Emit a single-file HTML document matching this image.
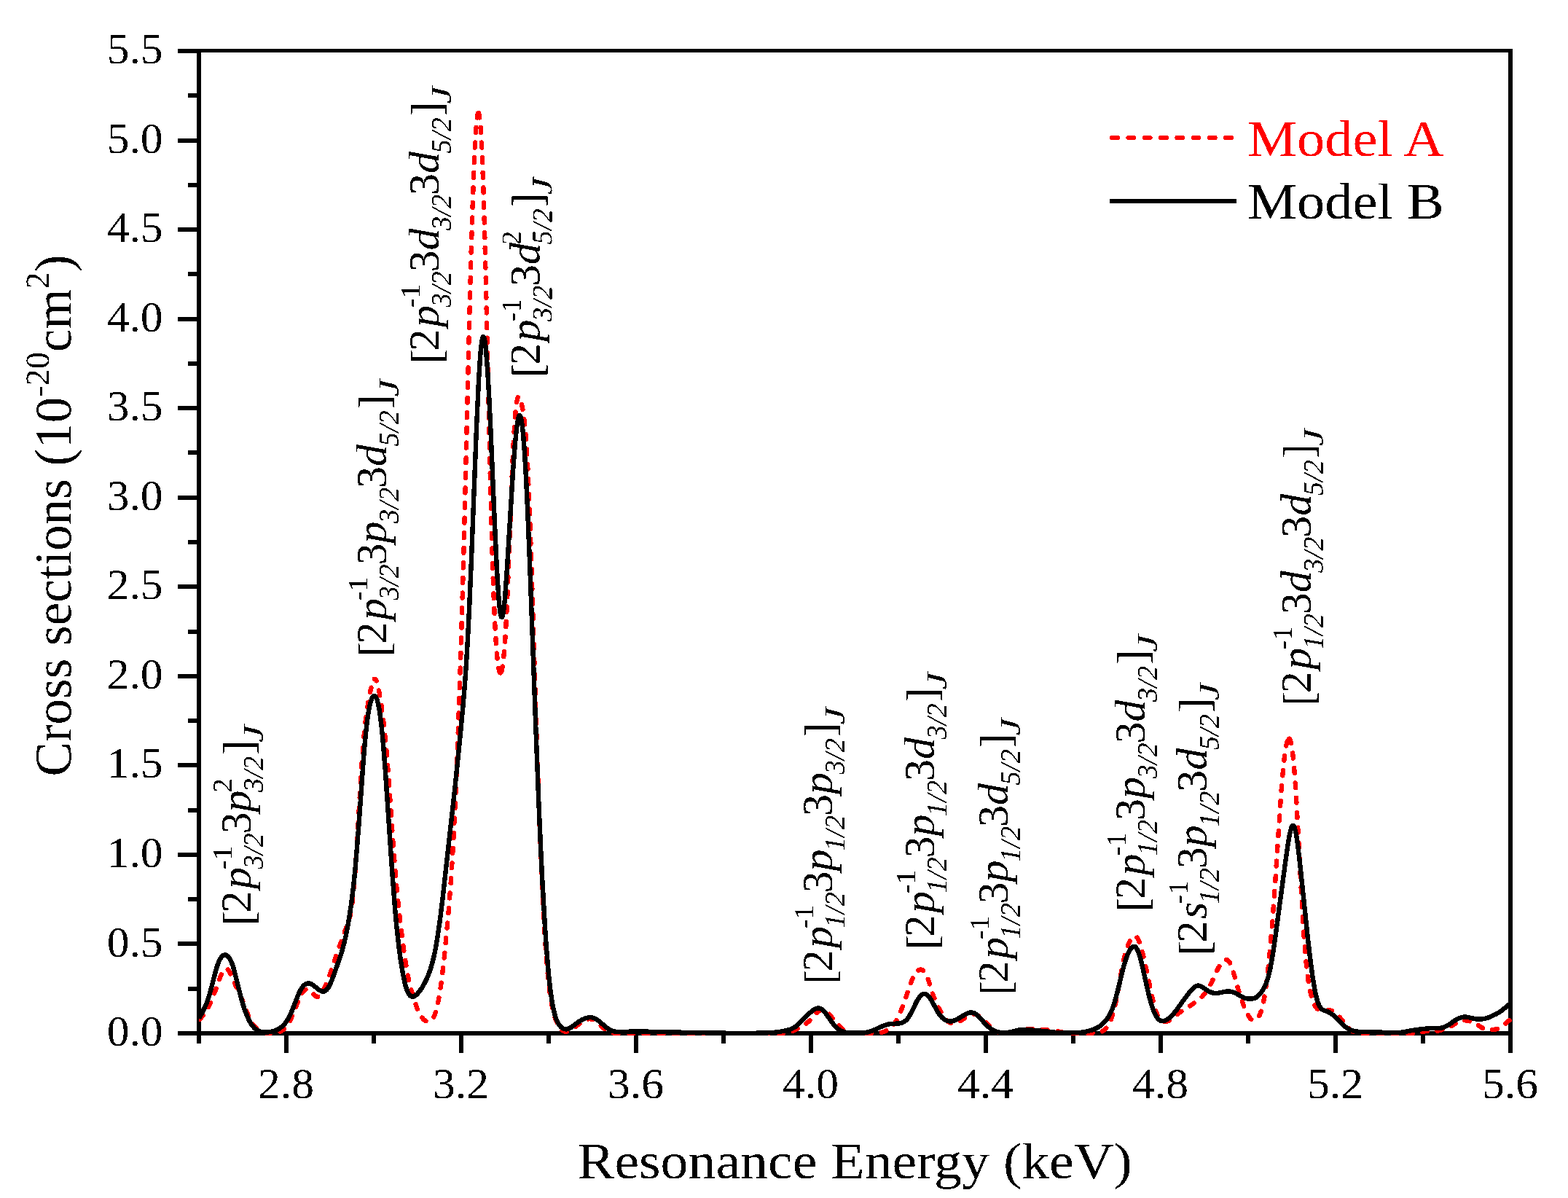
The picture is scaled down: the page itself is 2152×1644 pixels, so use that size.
<!DOCTYPE html>
<html lang="en"><head><meta charset="utf-8"><title>Cross sections vs Resonance Energy</title>
<style>
html,body{margin:0;padding:0;background:#fff;}
body{width:2152px;height:1644px;overflow:hidden;}
svg{display:block;}
text{font-family:"Liberation Serif","Times New Roman",Times,serif;}
.tk{font-size:60px;fill:#000;}
.ax{font-size:70.5px;fill:#000;}
.an{font-size:60px;fill:#000;}
.i{font-style:italic;}
</style></head><body>
<svg width="2152" height="1644" viewBox="0 0 2152 1644">
<rect x="0" y="0" width="2152" height="1644" fill="#ffffff"/>
<g shape-rendering="crispEdges" fill="#000">
<rect x="270" y="67" width="1806" height="5"/>
<rect x="270" y="1415" width="1806" height="6"/>
<rect x="270" y="67" width="6" height="1354"/>
<rect x="2070" y="67" width="6" height="1354"/>
<rect x="244" y="1415" width="29" height="6"/>
<rect x="258" y="1354" width="15" height="6"/>
<rect x="244" y="1292" width="29" height="6"/>
<rect x="258" y="1231" width="15" height="6"/>
<rect x="244" y="1170" width="29" height="6"/>
<rect x="258" y="1109" width="15" height="6"/>
<rect x="244" y="1047" width="29" height="6"/>
<rect x="258" y="986" width="15" height="6"/>
<rect x="244" y="925" width="29" height="6"/>
<rect x="258" y="864" width="15" height="6"/>
<rect x="244" y="802" width="29" height="6"/>
<rect x="258" y="741" width="15" height="6"/>
<rect x="244" y="680" width="29" height="6"/>
<rect x="258" y="618" width="15" height="6"/>
<rect x="244" y="557" width="29" height="6"/>
<rect x="258" y="496" width="15" height="6"/>
<rect x="244" y="435" width="29" height="6"/>
<rect x="258" y="373" width="15" height="6"/>
<rect x="244" y="312" width="29" height="6"/>
<rect x="258" y="251" width="15" height="6"/>
<rect x="244" y="190" width="29" height="6"/>
<rect x="258" y="128" width="15" height="6"/>
<rect x="244" y="67" width="29" height="6"/>
<rect x="270" y="1418" width="6" height="14"/>
<rect x="390" y="1418" width="6" height="27"/>
<rect x="510" y="1418" width="6" height="14"/>
<rect x="630" y="1418" width="6" height="27"/>
<rect x="750" y="1418" width="6" height="14"/>
<rect x="870" y="1418" width="6" height="27"/>
<rect x="990" y="1418" width="6" height="14"/>
<rect x="1110" y="1418" width="6" height="27"/>
<rect x="1230" y="1418" width="6" height="14"/>
<rect x="1350" y="1418" width="6" height="27"/>
<rect x="1470" y="1418" width="6" height="14"/>
<rect x="1590" y="1418" width="6" height="27"/>
<rect x="1710" y="1418" width="6" height="14"/>
<rect x="1830" y="1418" width="6" height="27"/>
<rect x="1950" y="1418" width="6" height="14"/>
<rect x="2070" y="1418" width="6" height="27"/>
</g>
<clipPath id="plotclip"><rect x="273" y="70" width="1802" height="1351"/></clipPath>
<g clip-path="url(#plotclip)" fill="none" stroke-linejoin="round" shape-rendering="crispEdges">
<g stroke="#ff0000" stroke-width="6.4" stroke-linecap="round">
<path d="M302.4 1340.6L293.0 1366.3L290.0 1373.6L288.0 1378.0L284.0 1385.4L280.0 1391.6L276.0 1396.8L273.0 1399.7" stroke-dasharray="7.00 13.60" stroke-dashoffset="3.50"/>
<path d="M302.4 1340.6L305.0 1334.8L307.0 1331.5L308.0 1330.4L309.0 1329.6L310.0 1329.3L311.0 1329.3L312.0 1329.8L313.0 1330.7L315.0 1333.5L317.0 1337.5L323.0 1351.4L329.0 1364.2L333.0 1373.7L340.0 1391.9L343.0 1398.6L345.0 1402.3L347.0 1405.5L349.0 1408.1L351.0 1410.3L354.0 1413.0L356.0 1414.3L359.0 1415.8L362.0 1416.8L365.0 1417.4L369.0 1417.8L374.0 1417.8L378.0 1417.5L381.0 1417.0L384.0 1416.0L386.0 1415.0L389.0 1412.9L391.0 1411.0L393.0 1408.7L395.0 1405.9L398.0 1400.7L402.0 1392.1L409.0 1374.3L412.0 1367.5L415.0 1362.1L417.0 1359.6L418.0 1358.7L419.0 1358.0L421.0 1357.4L422.0 1357.4L424.0 1358.1L426.0 1359.6L431.0 1365.0L433.0 1366.8L435.0 1367.8L436.0 1367.9L437.0 1367.7L438.0 1367.2L439.0 1366.4L441.0 1364.0L443.0 1360.7L447.0 1352.2L451.0 1342.2L464.0 1303.7L471.0 1284.2L478.0 1265.8L480.0 1259.0L482.0 1249.3L484.0 1235.1L485.0 1225.9L487.0 1202.7L490.0 1157.5L496.0 1055.5L499.0 1015.4L501.0 995.1L503.0 979.1L506.0 960.3L508.6 947.0" stroke-dasharray="7.00 13.75" stroke-dashoffset="3.50"/>
<path d="M508.6 947.0L511.0 937.4L512.0 934.6L513.0 932.7L514.0 931.7" stroke-dasharray="7.00 13.60" stroke-dashoffset="3.50"/>
<path d="M520.7 950.9L519.0 942.4L517.0 935.2L516.0 933.0L515.0 931.8L514.0 931.7" stroke-dasharray="7.00 13.60" stroke-dashoffset="3.50"/>
<path d="M520.7 950.9L523.0 965.3L525.0 979.7L527.0 996.0L529.0 1015.0L531.0 1037.2L533.0 1062.8L540.0 1163.9L543.0 1202.3L545.0 1224.5L548.0 1253.6L551.0 1279.2L553.8 1301.1" stroke-dasharray="7.00 13.70" stroke-dashoffset="3.50"/>
<path d="M553.8 1301.1L556.0 1316.2L559.0 1334.3L561.0 1344.4L564.0 1357.0L567.0 1367.6L571.0 1379.6L573.0 1384.9L575.0 1389.4L578.0 1394.9L581.0 1398.6L583.0 1400.3L585.0 1401.4L587.0 1401.9L589.0 1401.8L591.0 1401.0L592.0 1400.2L594.0 1397.8L595.0 1396.1L597.0 1391.6L599.0 1385.2L601.0 1376.7L603.0 1366.0L605.0 1353.0L607.0 1337.8L610.0 1311.3L615.0 1259.0L619.0 1207.4L622.0 1158.6L625.0 1098.0L628.0 1024.8L631.0 940.7" stroke-dasharray="7.00 13.62" stroke-dashoffset="3.50"/>
<path d="M631.0 940.7L634.0 843.9L637.0 735.8L644.0 448.6L647.0 333.5L650.0 241.8L652.0 197.8L653.2 178.5" stroke-dasharray="7.00 13.61" stroke-dashoffset="3.50"/>
<path d="M653.2 178.5L654.0 168.8L655.0 160.2L656.0 155.5L657.0 155.0" stroke-dasharray="7.00 13.60" stroke-dashoffset="3.50"/>
<path d="M659.9 178.5L659.0 167.0L658.0 158.8L657.0 155.0" stroke-dasharray="7.00 13.60" stroke-dashoffset="3.50"/>
<path d="M659.9 178.5L661.0 197.2L662.0 219.4L663.0 246.2L665.0 312.8L667.0 393.8L673.0 662.8L676.0 773.3L677.0 803.0L679.0 851.4L681.0 885.7L682.2 900.1" stroke-dasharray="7.00 13.63" stroke-dashoffset="3.50"/>
<path d="M682.2 900.1L683.0 907.9L684.0 915.2L685.0 920.1L686.0 922.9L687.0 923.6" stroke-dasharray="7.00 13.60" stroke-dashoffset="3.50"/>
<path d="M691.7 897.6L690.0 913.3L689.0 918.9L688.0 922.3L687.0 923.6" stroke-dasharray="7.00 13.60" stroke-dashoffset="3.50"/>
<path d="M691.7 897.6L693.0 881.6L694.0 865.8L696.0 826.3L698.0 777.8L703.0 645.8L705.0 602.6L707.0 571.2L708.0 560.3L709.0 552.5L710.0 547.4L711.0 544.8L712.0 544.2L713.0 545.2L714.0 547.5L715.0 550.7L717.0 559.5L718.0 565.2L720.0 580.4L722.0 602.9L724.0 635.4L726.0 679.0L729.0 763.6L736.0 996.8L740.0 1115.9L744.0 1213.5L746.0 1253.7L748.0 1288.0L750.0 1316.5L752.0 1339.6L754.0 1357.7L755.0 1365.2L757.0 1377.5L758.0 1382.5L760.0 1390.8L762.0 1397.4L764.0 1402.5L766.0 1406.7L768.0 1409.9L770.0 1412.3L772.0 1414.0L774.0 1415.1L776.0 1415.6L778.0 1415.6L781.0 1414.9L783.0 1414.0L786.0 1412.1L796.0 1404.2L801.0 1400.9L804.0 1399.4L806.0 1398.8L808.0 1398.3L810.0 1398.2L812.0 1398.5L814.0 1399.0L816.0 1399.9L818.0 1401.2L821.0 1403.7L829.0 1411.5L832.0 1413.9L834.0 1415.1L836.0 1416.1L838.0 1416.8L841.0 1417.4L844.0 1417.8L856.0 1418.0L1057.0 1418.0L1069.0 1417.9L1076.0 1417.6L1082.0 1416.8L1085.0 1416.0L1088.0 1415.0L1093.0 1412.5L1104.0 1406.1L1107.0 1404.1L1110.0 1401.6L1113.0 1398.4L1119.0 1391.5L1122.0 1388.7L1125.0 1386.8L1127.0 1386.2L1128.0 1386.1L1129.0 1386.1L1131.0 1386.5L1133.0 1387.4L1135.0 1388.8L1137.0 1390.6L1139.0 1392.8L1148.0 1403.9L1153.0 1409.4L1156.0 1412.1L1158.0 1413.5L1160.0 1414.8L1163.0 1416.1L1165.0 1416.8L1168.0 1417.4L1175.0 1417.9L1199.0 1417.9L1204.0 1417.7L1208.0 1417.2L1211.0 1416.5L1214.0 1415.5L1217.0 1414.1L1220.0 1412.3L1223.0 1409.9L1225.0 1407.9L1227.0 1405.5L1229.0 1402.6L1231.0 1399.1L1233.0 1395.2L1237.0 1385.9L1241.0 1375.0L1249.0 1351.7L1251.0 1346.4L1253.0 1341.8L1255.0 1338.0L1256.0 1336.4L1258.0 1333.8L1259.0 1332.8L1261.0 1331.3L1263.0 1330.6L1264.0 1330.5" stroke-dasharray="7.00 13.56" stroke-dashoffset="3.50"/>
<path d="M1264.0 1330.5L1266.0 1331.0L1268.0 1332.5L1270.0 1335.3L1271.0 1337.2L1274.0 1344.6L1280.0 1363.4L1283.0 1371.8L1286.0 1378.7L1289.0 1384.5L1294.0 1392.9L1298.0 1398.6L1301.0 1401.7L1302.0 1402.4L1304.0 1403.5L1306.0 1404.0L1309.0 1404.0L1312.0 1403.4L1315.0 1402.5L1318.0 1401.2L1320.0 1400.1L1327.0 1395.0L1330.0 1393.1L1333.0 1392.0L1336.0 1391.7L1338.0 1392.0L1340.0 1392.6L1342.0 1393.5L1345.0 1395.4L1347.0 1396.9L1350.0 1399.6L1359.0 1409.0L1363.0 1412.6L1366.0 1414.6L1368.0 1415.6L1370.0 1416.4L1373.0 1417.1L1377.0 1417.3L1382.0 1417.0L1405.0 1412.5L1409.0 1412.0L1412.0 1411.8L1429.0 1412.6L1444.0 1414.1L1449.0 1414.8L1460.0 1417.0L1467.0 1417.8L1475.0 1418.0L1496.0 1418.0L1502.0 1417.8L1506.0 1417.5L1509.0 1416.9L1512.0 1415.8L1515.0 1414.0L1517.0 1412.2L1519.0 1409.9L1521.0 1407.0L1523.0 1403.3L1525.0 1398.6L1528.0 1389.5L1531.0 1377.2L1534.0 1362.0L1541.0 1323.0L1543.0 1313.7L1545.0 1305.9L1548.0 1297.0L1551.0 1290.9L1553.0 1287.8L1555.0 1285.7L1556.0 1285.1L1557.0 1284.7L1558.0 1284.7L1559.0 1285.1L1560.0 1285.9L1561.0 1287.2L1562.0 1288.9L1564.0 1293.6L1567.0 1303.4L1569.0 1311.3L1572.0 1324.4L1582.0 1371.3L1584.0 1379.4L1586.0 1386.3L1588.0 1391.8L1590.0 1396.0L1592.0 1399.0L1594.0 1400.8L1596.0 1401.8L1597.0 1402.0L1599.0 1402.1L1602.0 1401.6L1604.0 1400.9L1606.0 1399.9L1610.0 1397.2L1619.0 1389.5L1628.0 1383.7L1643.0 1373.7L1646.0 1371.4L1648.0 1369.7L1651.0 1366.5L1654.0 1362.9L1657.0 1358.7L1659.0 1355.5L1663.0 1347.9L1671.0 1330.4L1673.0 1326.7L1675.0 1323.5L1677.0 1320.9L1679.0 1318.8L1681.0 1317.5L1682.0 1317.1L1683.0 1317.0L1684.0 1317.2L1685.0 1317.7L1686.0 1318.6L1687.0 1319.9L1688.0 1321.5L1690.0 1325.9L1693.0 1334.9L1699.0 1356.2L1703.0 1369.2L1707.0 1380.4L1711.0 1389.8L1714.0 1395.1L1716.0 1397.7L1717.0 1398.6L1718.0 1399.3L1720.0 1400.1L1722.0 1400.0L1724.0 1399.1L1726.0 1397.3L1727.0 1396.0L1729.0 1392.5L1731.0 1387.3L1733.0 1380.1L1735.0 1370.4L1737.0 1358.0L1740.0 1334.3L1743.0 1304.4L1746.0 1268.9L1750.0 1213.4L1758.0 1092.3L1760.0 1067.0L1762.7 1040.4" stroke-dasharray="7.00 13.75" stroke-dashoffset="3.50"/>
<path d="M1762.7 1040.4L1764.0 1030.3L1765.0 1024.3L1766.0 1019.6L1767.0 1016.3L1768.0 1014.2L1769.0 1013.5" stroke-dasharray="7.00 13.60" stroke-dashoffset="3.50"/>
<path d="M1774.5 1037.0L1773.0 1025.4L1772.0 1020.0L1771.0 1016.3L1770.0 1014.2L1769.0 1013.5" stroke-dasharray="7.00 13.60" stroke-dashoffset="3.50"/>
<path d="M1774.5 1037.0L1776.0 1052.0L1777.0 1064.5L1779.0 1094.4L1787.0 1243.1L1790.0 1289.8L1792.0 1314.3L1793.0 1324.6L1795.0 1341.5L1796.0 1348.3L1798.0 1359.5L1800.0 1367.8L1802.0 1374.1L1804.0 1378.7L1805.0 1380.6L1807.0 1383.5L1808.0 1384.5L1810.0 1386.1L1811.0 1386.6L1813.0 1387.3L1816.0 1387.5L1822.0 1386.5L1825.0 1386.4L1828.0 1387.1L1830.0 1388.1L1833.0 1390.3L1837.0 1394.2L1841.0 1398.8L1849.0 1408.6L1853.0 1412.7L1856.0 1414.9L1859.0 1416.3L1862.0 1417.2L1866.0 1417.7L1877.0 1418.0L1938.0 1417.9L1946.0 1417.2L1956.0 1415.3L1960.0 1414.7L1963.0 1414.6L1970.0 1414.8L1973.0 1414.6L1976.0 1414.0L1979.0 1413.2L1988.0 1410.0L1993.0 1407.4L1999.0 1403.4L2002.0 1401.6L2005.0 1400.5L2008.0 1400.1L2011.0 1400.3L2015.0 1400.9L2018.0 1401.5L2021.0 1402.5L2025.0 1404.5L2033.0 1409.7L2036.0 1411.2L2038.0 1412.0L2040.0 1412.5L2043.0 1413.1L2046.0 1413.2L2049.0 1413.1L2054.0 1412.3L2057.0 1411.3L2059.0 1410.3L2063.0 1407.6L2068.8 1402.4" stroke-dasharray="7.00 13.47" stroke-dashoffset="3.50"/>
<path d="M2068.8 1402.4L2071.0 1400.6L2073.0 1399.3" stroke-dasharray="7.00 13.60" stroke-dashoffset="3.50"/>
</g>
<path d="M273.0 1397.6L277.0 1390.5L280.0 1384.7L283.0 1378.0L285.0 1372.7L287.0 1366.6L289.0 1359.6L296.0 1332.6L298.0 1325.9L300.0 1320.3L302.0 1316.1L304.0 1313.1L306.0 1311.3L308.0 1310.5L310.0 1310.5L311.0 1310.9L313.0 1312.4L315.0 1314.9L316.0 1316.6L318.0 1321.0L320.0 1326.7L322.0 1333.6L330.0 1365.8L333.0 1376.8L336.0 1386.2L340.0 1396.3L342.0 1400.4L344.0 1404.0L346.0 1407.0L348.0 1409.5L350.0 1411.6L352.0 1413.1L354.0 1414.3L357.0 1415.5L361.0 1416.3L366.0 1416.5L371.0 1416.1L375.0 1415.2L379.0 1413.8L383.0 1411.7L386.0 1409.6L389.0 1406.9L392.0 1403.4L394.0 1400.5L396.0 1397.1L398.0 1393.2L401.0 1386.3L409.0 1365.9L412.0 1359.4L415.0 1354.6L417.0 1352.3L419.0 1350.7L421.0 1349.7L423.0 1349.3L425.0 1349.5L427.0 1350.2L430.0 1352.0L438.0 1358.6L441.0 1360.2L443.0 1360.7L445.0 1360.4L446.0 1360.0L448.0 1358.6L450.0 1356.2L452.0 1352.9L455.0 1346.2L458.0 1338.3L467.0 1312.7L470.0 1303.1L473.0 1291.6L475.0 1282.6L478.0 1266.7L480.0 1254.5L482.0 1240.9L484.0 1225.4L486.0 1207.7L488.0 1187.2L492.0 1137.8L499.0 1040.6L501.0 1016.9L503.0 997.1L505.0 981.6L506.0 975.4L508.0 965.7L510.0 959.3L511.0 957.2L512.0 955.8L513.0 955.0L514.0 954.8L515.0 955.4L516.0 956.7L517.0 958.8L518.0 961.8L519.0 965.6L521.0 976.4L522.0 983.4L524.0 1000.5L526.0 1021.6L529.0 1059.9L538.0 1193.4L542.0 1245.5L544.0 1267.7L547.0 1295.9L550.0 1318.8L553.0 1336.8L556.0 1350.5L557.0 1354.1L559.0 1359.9L560.0 1362.1L562.0 1365.4L563.0 1366.5L564.0 1367.2L565.0 1367.6L566.0 1367.8L568.0 1367.4L569.0 1366.9L571.0 1365.5L573.0 1363.6L576.0 1360.0L579.0 1355.6L582.0 1350.4L585.0 1344.6L587.0 1340.1L590.0 1332.3L592.0 1326.1L594.0 1318.9L596.0 1310.4L598.0 1300.5L600.0 1289.1L604.0 1261.7L608.0 1228.7L624.0 1084.9L631.0 1016.6L636.0 963.3L638.0 938.6L640.0 909.9L642.0 876.2L644.0 836.8L647.0 767.2L654.0 586.3L657.0 522.4L659.0 491.0L660.0 479.3L661.0 470.6L662.0 464.8L663.0 462.1L664.0 462.4L665.0 465.7L666.0 471.8L667.0 480.7L669.0 506.1L671.0 540.0L673.0 580.7L679.0 719.9L682.0 782.4L684.0 814.7L685.0 827.1L686.0 836.7L687.0 843.2L688.0 846.7L689.0 847.2L690.0 844.6L691.0 839.2L692.0 831.2L693.0 820.9L696.0 779.3L704.0 647.3L707.0 607.9L709.0 588.2L710.0 580.8L711.0 575.2L712.0 571.5L713.0 569.9L714.0 570.5L715.0 573.3L716.0 578.4L717.0 585.8L718.0 595.5L720.0 621.7L722.0 656.2L724.0 697.9L727.0 770.9L735.0 989.8L739.0 1092.4L742.0 1161.1L744.0 1202.2L748.0 1272.5L750.0 1301.5L753.0 1337.0L755.0 1355.5L756.0 1363.4L758.0 1376.6L759.0 1382.0L761.0 1390.8L762.0 1394.3L764.0 1400.0L766.0 1404.2L768.0 1407.3L770.0 1409.5L772.0 1411.0L774.0 1411.9L776.0 1412.3L778.0 1412.3L780.0 1411.8L782.0 1410.9L784.0 1409.7L794.0 1402.3L799.0 1399.3L802.0 1397.9L805.0 1396.9L808.0 1396.3L810.0 1396.2L812.0 1396.3L814.0 1396.7L816.0 1397.4L819.0 1399.1L823.0 1402.1L832.0 1409.7L837.0 1413.1L841.0 1414.8L843.0 1415.4L846.0 1415.8L851.0 1416.0L879.0 1415.3L892.0 1415.8L953.0 1417.1L996.0 1417.7L1038.0 1417.7L1052.0 1417.4L1062.0 1416.9L1070.0 1415.9L1079.0 1414.2L1085.0 1412.5L1089.0 1410.6L1092.0 1408.7L1096.0 1405.3L1108.0 1393.1L1114.0 1387.7L1117.0 1385.6L1119.0 1384.5L1121.0 1383.8L1123.0 1383.5L1125.0 1383.7L1127.0 1384.5L1130.0 1386.8L1132.0 1389.0L1134.0 1391.6L1141.0 1401.8L1145.0 1407.0L1149.0 1411.0L1151.0 1412.5L1154.0 1414.4L1156.0 1415.3L1159.0 1416.3L1162.0 1417.0L1165.0 1417.3L1175.0 1417.7L1185.0 1417.4L1191.0 1416.4L1196.0 1414.9L1201.0 1412.9L1211.0 1408.3L1217.0 1406.1L1220.0 1405.4L1223.0 1405.0L1232.0 1404.6L1235.0 1404.3L1238.0 1403.5L1241.0 1402.1L1243.0 1400.6L1245.0 1398.6L1248.0 1394.3L1251.0 1388.9L1258.0 1374.6L1260.0 1371.1L1262.0 1368.2L1264.0 1366.0L1266.0 1364.5L1268.0 1363.8L1269.0 1363.8L1270.0 1363.9L1272.0 1364.8L1274.0 1366.6L1276.0 1369.1L1279.0 1373.9L1287.0 1388.7L1289.0 1391.8L1291.0 1394.4L1293.0 1396.5L1296.0 1398.9L1298.0 1400.0L1301.0 1401.1L1303.0 1401.4L1305.0 1401.5L1307.0 1401.2L1310.0 1400.4L1314.0 1398.5L1324.0 1392.5L1327.0 1390.9L1329.0 1390.1L1331.0 1389.6L1334.0 1389.4L1337.0 1390.3L1339.0 1391.5L1341.0 1393.0L1344.0 1396.0L1353.0 1405.8L1356.0 1408.7L1359.0 1411.1L1362.0 1413.1L1365.0 1414.6L1368.0 1415.8L1372.0 1416.7L1377.0 1417.2L1383.0 1417.0L1388.0 1416.1L1398.0 1413.6L1401.0 1413.1L1405.0 1412.9L1410.0 1413.1L1421.0 1413.9L1447.0 1416.6L1453.0 1417.1L1476.0 1417.2L1481.0 1417.0L1485.0 1416.6L1491.0 1415.5L1498.0 1413.7L1503.0 1411.8L1507.0 1409.8L1511.0 1407.0L1515.0 1403.4L1519.0 1398.6L1522.0 1394.1L1524.0 1390.4L1526.0 1386.0L1528.0 1380.8L1530.0 1374.6L1534.0 1359.7L1541.0 1330.7L1544.0 1320.0L1546.0 1314.0L1549.0 1306.7L1551.0 1303.1L1553.0 1300.5L1554.0 1299.6L1555.0 1299.0L1556.0 1298.8L1557.0 1298.9L1558.0 1299.3L1559.0 1300.2L1560.0 1301.6L1562.0 1305.5L1564.0 1311.1L1566.0 1318.2L1568.0 1326.5L1574.0 1353.8L1577.0 1366.6L1580.0 1377.6L1582.0 1383.7L1584.0 1388.9L1587.0 1394.8L1588.0 1396.4L1590.0 1398.7L1591.0 1399.6L1593.0 1400.7L1594.0 1401.1L1596.0 1401.3L1599.0 1400.6L1601.0 1399.6L1603.0 1398.3L1607.0 1394.9L1610.0 1391.8L1614.0 1387.0L1627.0 1368.9L1634.0 1359.9L1637.0 1356.7L1639.0 1354.9L1641.0 1353.5L1643.0 1352.7L1645.0 1352.6L1646.0 1352.7L1648.0 1353.4L1650.0 1354.5L1656.0 1358.6L1659.0 1360.4L1662.0 1361.8L1665.0 1362.6L1668.0 1363.0L1671.0 1362.9L1682.0 1360.7L1685.0 1360.4L1688.0 1360.5L1691.0 1361.1L1695.0 1362.5L1705.0 1368.1L1709.0 1369.8L1712.0 1370.4L1715.0 1370.7L1718.0 1370.6L1721.0 1370.1L1723.0 1369.3L1725.0 1368.2L1728.0 1365.5L1731.0 1361.9L1734.0 1357.1L1737.0 1351.0L1739.0 1345.7L1741.0 1339.1L1743.0 1330.8L1746.0 1315.1L1749.0 1295.6L1764.0 1184.2L1768.0 1156.3L1770.0 1144.9L1772.0 1136.8L1773.0 1134.3L1774.0 1133.0L1775.0 1132.9L1776.0 1134.2L1777.0 1136.8L1778.0 1140.6L1779.0 1145.6L1781.0 1158.7L1784.0 1183.9L1795.0 1288.4L1799.0 1322.1L1802.0 1343.8L1805.0 1361.0L1806.0 1365.7L1808.0 1373.3L1809.0 1376.3L1811.0 1380.8L1812.0 1382.4L1814.0 1384.7L1815.0 1385.4L1817.0 1386.5L1822.0 1388.3L1824.0 1389.2L1828.0 1391.6L1833.0 1395.9L1842.0 1405.1L1846.0 1408.7L1849.0 1411.0L1851.0 1412.2L1853.0 1413.2L1856.0 1414.3L1861.0 1415.5L1866.0 1415.9L1882.0 1416.1L1906.0 1417.1L1916.0 1417.1L1921.0 1416.9L1926.0 1416.4L1942.0 1413.3L1958.0 1411.5L1963.0 1411.1L1974.0 1411.2L1979.0 1410.5L1983.0 1409.1L1987.0 1407.1L1997.0 1400.3L2001.0 1398.0L2005.0 1396.4L2008.0 1395.7L2011.0 1395.5L2014.0 1395.8L2024.0 1398.1L2028.0 1398.6L2031.0 1398.7L2034.0 1398.5L2039.0 1397.6L2042.0 1396.7L2045.0 1395.5L2053.0 1391.7L2057.0 1389.5L2061.0 1386.8L2069.0 1380.1L2073.0 1377.0" stroke="#000000" stroke-width="6.4"/>
</g>
<filter id="bin" x="0" y="0" width="2152" height="1644" filterUnits="userSpaceOnUse" color-interpolation-filters="sRGB"><feComponentTransfer><feFuncA type="discrete" tableValues="0 1"/></feComponentTransfer></filter>
<g filter="url(#bin)">
<g class="tk">
<text transform="translate(223.6,1435.0) scale(1.025,1)" text-anchor="end">0.0</text>
<text transform="translate(223.6,1312.5) scale(1.025,1)" text-anchor="end">0.5</text>
<text transform="translate(223.6,1189.9) scale(1.025,1)" text-anchor="end">1.0</text>
<text transform="translate(223.6,1067.4) scale(1.025,1)" text-anchor="end">1.5</text>
<text transform="translate(223.6,944.8) scale(1.025,1)" text-anchor="end">2.0</text>
<text transform="translate(223.6,822.3) scale(1.025,1)" text-anchor="end">2.5</text>
<text transform="translate(223.6,699.7) scale(1.025,1)" text-anchor="end">3.0</text>
<text transform="translate(223.6,577.2) scale(1.025,1)" text-anchor="end">3.5</text>
<text transform="translate(223.6,454.6) scale(1.025,1)" text-anchor="end">4.0</text>
<text transform="translate(223.6,332.1) scale(1.025,1)" text-anchor="end">4.5</text>
<text transform="translate(223.6,209.5) scale(1.025,1)" text-anchor="end">5.0</text>
<text transform="translate(223.6,87.0) scale(1.025,1)" text-anchor="end">5.5</text>
<text transform="translate(392.5,1507.4) scale(1.025,1)" text-anchor="middle">2.8</text>
<text transform="translate(632.5,1507.4) scale(1.025,1)" text-anchor="middle">3.2</text>
<text transform="translate(872.5,1507.4) scale(1.025,1)" text-anchor="middle">3.6</text>
<text transform="translate(1112.5,1507.4) scale(1.025,1)" text-anchor="middle">4.0</text>
<text transform="translate(1352.5,1507.4) scale(1.025,1)" text-anchor="middle">4.4</text>
<text transform="translate(1592.5,1507.4) scale(1.025,1)" text-anchor="middle">4.8</text>
<text transform="translate(1832.5,1507.4) scale(1.025,1)" text-anchor="middle">5.2</text>
<text transform="translate(2072.5,1507.4) scale(1.025,1)" text-anchor="middle">5.6</text>
</g>
<text class="ax" transform="translate(1173.3,1617) scale(1.076,1)" text-anchor="middle">Resonance Energy (keV)</text>
<text class="ax" transform="translate(97,707.5) rotate(-90) scale(1.007,1.022)" text-anchor="middle">Cross sections (10<tspan font-size="46" dy="-29.4">-20</tspan><tspan dy="29.4">cm</tspan><tspan font-size="46" dy="-29.4">2</tspan><tspan dy="29.4">)</tspan></text>
<line x1="1526" y1="189" x2="1694" y2="189" stroke="#ff0000" stroke-width="6" stroke-dasharray="8 14.3" stroke-linecap="round"/>
<rect x="1523" y="273" width="174" height="6" fill="#000" shape-rendering="crispEdges"/>
<text class="ax" transform="translate(1712,214) scale(1.085,1)" style="fill:#ff0000">Model A</text>
<text class="ax" transform="translate(1712,300) scale(1.085,1)">Model B</text>
<g class="an">
<g transform="translate(344.0,1270.0) rotate(-90)"><text font-size="60.0" transform="translate(0.0,3.0) scale(1,1.0)">[</text><text font-size="60.0" transform="translate(17.5,0.0) scale(1,0.97)">2</text><text class="i" font-size="60.0" transform="translate(50.0,0.0) scale(1,0.97)">p</text><text font-size="38.6" transform="translate(77.0,-26.0) scale(1,1.0)">-1</text><text class="i" font-size="38.5" transform="translate(77.5,17.2) scale(1,1.02)">3/2</text><text font-size="60.0" transform="translate(125.5,0.0) scale(1,0.97)">3</text><text class="i" font-size="60.0" transform="translate(155.5,0.0) scale(1,0.97)">p</text><text font-size="38.6" transform="translate(182.5,-26.0) scale(1,1.0)">2</text><text class="i" font-size="38.5" transform="translate(183.0,17.2) scale(1,1.02)">3/2</text><text font-size="60.0" transform="translate(234.0,3.0) scale(1,1.0)">]</text><text class="i" font-size="38.5" transform="translate(251.0,17.2) scale(1.4,1.02)">J</text></g>
<g transform="translate(530.0,901.0) rotate(-90)"><text font-size="60.0" transform="translate(0.0,3.0) scale(1,1.0)">[</text><text font-size="60.0" transform="translate(17.5,0.0) scale(1,0.97)">2</text><text class="i" font-size="60.0" transform="translate(50.0,0.0) scale(1,0.97)">p</text><text font-size="38.6" transform="translate(77.0,-26.0) scale(1,1.0)">-1</text><text class="i" font-size="38.5" transform="translate(77.5,17.2) scale(1,1.02)">3/2</text><text font-size="60.0" transform="translate(125.5,0.0) scale(1,0.97)">3</text><text class="i" font-size="60.0" transform="translate(155.5,0.0) scale(1,0.97)">p</text><text class="i" font-size="38.5" transform="translate(183.0,17.2) scale(1,1.02)">3/2</text><text font-size="60.0" transform="translate(231.0,0.0) scale(1,0.97)">3</text><text class="i" font-size="60.0" transform="translate(261.0,0.0) scale(1,0.97)">d</text><text class="i" font-size="38.5" transform="translate(288.5,17.2) scale(1,1.02)">5/2</text><text font-size="60.0" transform="translate(339.5,3.0) scale(1,1.0)">]</text><text class="i" font-size="38.5" transform="translate(356.5,17.2) scale(1.4,1.02)">J</text></g>
<g transform="translate(602.0,499.0) rotate(-90)"><text font-size="60.0" transform="translate(0.0,3.0) scale(1,1.0)">[</text><text font-size="60.0" transform="translate(17.5,0.0) scale(1,0.97)">2</text><text class="i" font-size="60.0" transform="translate(50.0,0.0) scale(1,0.97)">p</text><text font-size="38.6" transform="translate(77.0,-26.0) scale(1,1.0)">-1</text><text class="i" font-size="38.5" transform="translate(77.5,17.2) scale(1,1.02)">3/2</text><text font-size="60.0" transform="translate(125.5,0.0) scale(1,0.97)">3</text><text class="i" font-size="60.0" transform="translate(155.5,0.0) scale(1,0.97)">d</text><text class="i" font-size="38.5" transform="translate(183.0,17.2) scale(1,1.02)">3/2</text><text font-size="60.0" transform="translate(231.0,0.0) scale(1,0.97)">3</text><text class="i" font-size="60.0" transform="translate(261.0,0.0) scale(1,0.97)">d</text><text class="i" font-size="38.5" transform="translate(288.5,17.2) scale(1,1.02)">5/2</text><text font-size="60.0" transform="translate(339.5,3.0) scale(1,1.0)">]</text><text class="i" font-size="38.5" transform="translate(356.5,17.2) scale(1.4,1.02)">J</text></g>
<g transform="translate(740.5,518.5) rotate(-90)"><text font-size="60.0" transform="translate(0.0,3.0) scale(1,1.0)">[</text><text font-size="60.0" transform="translate(17.5,0.0) scale(1,0.97)">2</text><text class="i" font-size="60.0" transform="translate(50.0,0.0) scale(1,0.97)">p</text><text font-size="38.6" transform="translate(77.0,-26.0) scale(1,1.0)">-1</text><text class="i" font-size="38.5" transform="translate(77.5,17.2) scale(1,1.02)">3/2</text><text font-size="60.0" transform="translate(125.5,0.0) scale(1,0.97)">3</text><text class="i" font-size="60.0" transform="translate(155.5,0.0) scale(1,0.97)">d</text><text font-size="38.6" transform="translate(182.5,-26.0) scale(1,1.0)">2</text><text class="i" font-size="38.5" transform="translate(183.0,17.2) scale(1,1.02)">5/2</text><text font-size="60.0" transform="translate(234.0,3.0) scale(1,1.0)">]</text><text class="i" font-size="38.5" transform="translate(251.0,17.2) scale(1.4,1.02)">J</text></g>
<g transform="translate(1141.5,1351.0) rotate(-90)"><text font-size="60.0" transform="translate(0.0,3.0) scale(1,1.0)">[</text><text font-size="60.0" transform="translate(17.5,0.0) scale(1,0.97)">2</text><text class="i" font-size="60.0" transform="translate(50.0,0.0) scale(1,0.97)">p</text><text font-size="38.6" transform="translate(77.0,-26.0) scale(1,1.0)">-1</text><text class="i" font-size="38.5" transform="translate(77.5,17.2) scale(1,1.02)">1/2</text><text font-size="60.0" transform="translate(125.5,0.0) scale(1,0.97)">3</text><text class="i" font-size="60.0" transform="translate(155.5,0.0) scale(1,0.97)">p</text><text class="i" font-size="38.5" transform="translate(183.0,17.2) scale(1,1.02)">1/2</text><text font-size="60.0" transform="translate(231.0,0.0) scale(1,0.97)">3</text><text class="i" font-size="60.0" transform="translate(261.0,0.0) scale(1,0.97)">p</text><text class="i" font-size="38.5" transform="translate(288.5,17.2) scale(1,1.02)">3/2</text><text font-size="60.0" transform="translate(339.5,3.0) scale(1,1.0)">]</text><text class="i" font-size="38.5" transform="translate(356.5,17.2) scale(1.4,1.02)">J</text></g>
<g transform="translate(1282.0,1303.0) rotate(-90)"><text font-size="60.0" transform="translate(0.0,3.0) scale(1,1.0)">[</text><text font-size="60.0" transform="translate(17.5,0.0) scale(1,0.97)">2</text><text class="i" font-size="60.0" transform="translate(50.0,0.0) scale(1,0.97)">p</text><text font-size="38.6" transform="translate(77.0,-26.0) scale(1,1.0)">-1</text><text class="i" font-size="38.5" transform="translate(77.5,17.2) scale(1,1.02)">1/2</text><text font-size="60.0" transform="translate(125.5,0.0) scale(1,0.97)">3</text><text class="i" font-size="60.0" transform="translate(155.5,0.0) scale(1,0.97)">p</text><text class="i" font-size="38.5" transform="translate(183.0,17.2) scale(1,1.02)">1/2</text><text font-size="60.0" transform="translate(231.0,0.0) scale(1,0.97)">3</text><text class="i" font-size="60.0" transform="translate(261.0,0.0) scale(1,0.97)">d</text><text class="i" font-size="38.5" transform="translate(288.5,17.2) scale(1,1.02)">3/2</text><text font-size="60.0" transform="translate(339.5,3.0) scale(1,1.0)">]</text><text class="i" font-size="38.5" transform="translate(356.5,17.2) scale(1.4,1.02)">J</text></g>
<g transform="translate(1382.7,1366.0) rotate(-90)"><text font-size="60.0" transform="translate(0.0,3.0) scale(1,1.0)">[</text><text font-size="60.0" transform="translate(17.5,0.0) scale(1,0.97)">2</text><text class="i" font-size="60.0" transform="translate(50.0,0.0) scale(1,0.97)">p</text><text font-size="38.6" transform="translate(77.0,-26.0) scale(1,1.0)">-1</text><text class="i" font-size="38.5" transform="translate(77.5,17.2) scale(1,1.02)">1/2</text><text font-size="60.0" transform="translate(125.5,0.0) scale(1,0.97)">3</text><text class="i" font-size="60.0" transform="translate(155.5,0.0) scale(1,0.97)">p</text><text class="i" font-size="38.5" transform="translate(183.0,17.2) scale(1,1.02)">1/2</text><text font-size="60.0" transform="translate(231.0,0.0) scale(1,0.97)">3</text><text class="i" font-size="60.0" transform="translate(261.0,0.0) scale(1,0.97)">d</text><text class="i" font-size="38.5" transform="translate(288.5,17.2) scale(1,1.02)">5/2</text><text font-size="60.0" transform="translate(339.5,3.0) scale(1,1.0)">]</text><text class="i" font-size="38.5" transform="translate(356.5,17.2) scale(1.4,1.02)">J</text></g>
<g transform="translate(1571.0,1251.5) rotate(-90)"><text font-size="60.0" transform="translate(0.0,3.0) scale(1,1.0)">[</text><text font-size="60.0" transform="translate(17.5,0.0) scale(1,0.97)">2</text><text class="i" font-size="60.0" transform="translate(50.0,0.0) scale(1,0.97)">p</text><text font-size="38.6" transform="translate(77.0,-26.0) scale(1,1.0)">-1</text><text class="i" font-size="38.5" transform="translate(77.5,17.2) scale(1,1.02)">1/2</text><text font-size="60.0" transform="translate(125.5,0.0) scale(1,0.97)">3</text><text class="i" font-size="60.0" transform="translate(155.5,0.0) scale(1,0.97)">p</text><text class="i" font-size="38.5" transform="translate(183.0,17.2) scale(1,1.02)">3/2</text><text font-size="60.0" transform="translate(231.0,0.0) scale(1,0.97)">3</text><text class="i" font-size="60.0" transform="translate(261.0,0.0) scale(1,0.97)">d</text><text class="i" font-size="38.5" transform="translate(288.5,17.2) scale(1,1.02)">3/2</text><text font-size="60.0" transform="translate(339.5,3.0) scale(1,1.0)">]</text><text class="i" font-size="38.5" transform="translate(356.5,17.2) scale(1.4,1.02)">J</text></g>
<g transform="translate(1655.7,1311.0) rotate(-90)"><text font-size="60.0" transform="translate(0.0,3.0) scale(1,1.0)">[</text><text font-size="60.0" transform="translate(17.5,0.0) scale(1,0.97)">2</text><text class="i" font-size="60.0" transform="translate(50.0,0.0) scale(1,0.97)">s</text><text font-size="38.6" transform="translate(70.3,-26.0) scale(1,1.0)">-1</text><text class="i" font-size="38.5" transform="translate(70.8,17.2) scale(1,1.02)">1/2</text><text font-size="60.0" transform="translate(118.8,0.0) scale(1,0.97)">3</text><text class="i" font-size="60.0" transform="translate(148.8,0.0) scale(1,0.97)">p</text><text class="i" font-size="38.5" transform="translate(176.3,17.2) scale(1,1.02)">1/2</text><text font-size="60.0" transform="translate(224.3,0.0) scale(1,0.97)">3</text><text class="i" font-size="60.0" transform="translate(254.3,0.0) scale(1,0.97)">d</text><text class="i" font-size="38.5" transform="translate(281.8,17.2) scale(1,1.02)">5/2</text><text font-size="60.0" transform="translate(332.9,3.0) scale(1,1.0)">]</text><text class="i" font-size="38.5" transform="translate(349.8,17.2) scale(1.4,1.02)">J</text></g>
<g transform="translate(1798.7,968.7) rotate(-90)"><text font-size="60.0" transform="translate(0.0,3.0) scale(1,1.0)">[</text><text font-size="60.0" transform="translate(17.5,0.0) scale(1,0.97)">2</text><text class="i" font-size="60.0" transform="translate(50.0,0.0) scale(1,0.97)">p</text><text font-size="38.6" transform="translate(77.0,-26.0) scale(1,1.0)">-1</text><text class="i" font-size="38.5" transform="translate(77.5,17.2) scale(1,1.02)">1/2</text><text font-size="60.0" transform="translate(125.5,0.0) scale(1,0.97)">3</text><text class="i" font-size="60.0" transform="translate(155.5,0.0) scale(1,0.97)">d</text><text class="i" font-size="38.5" transform="translate(183.0,17.2) scale(1,1.02)">3/2</text><text font-size="60.0" transform="translate(231.0,0.0) scale(1,0.97)">3</text><text class="i" font-size="60.0" transform="translate(261.0,0.0) scale(1,0.97)">d</text><text class="i" font-size="38.5" transform="translate(288.5,17.2) scale(1,1.02)">5/2</text><text font-size="60.0" transform="translate(339.5,3.0) scale(1,1.0)">]</text><text class="i" font-size="38.5" transform="translate(356.5,17.2) scale(1.4,1.02)">J</text></g>
</g>
</g>
</svg>
</body></html>
